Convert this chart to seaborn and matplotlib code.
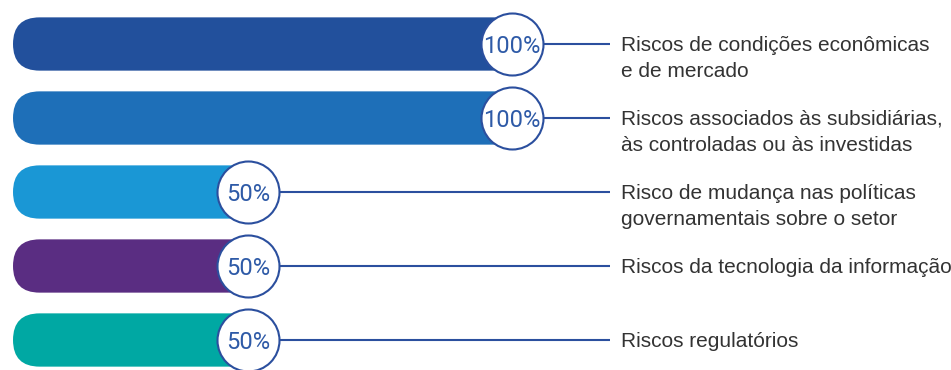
import matplotlib
matplotlib.use("Agg")
import matplotlib.pyplot as plt
import matplotlib.transforms as mtransforms
from matplotlib.patches import FancyBboxPatch
import pandas as pd
import seaborn as sns

# Risk categories and the share of responses for each
categories = [
    "Riscos de condições econômicas\ne de mercado",
    "Riscos associados às subsidiárias,\nàs controladas ou às investidas",
    "Risco de mudança nas políticas\ngovernamentais sobre o setor",
    "Riscos da tecnologia da informação",
    "Riscos regulatórios",
]
values = [100, 100, 50, 50, 50]
bar_colors = ["#22509C", "#1E6FB8", "#1A97D5", "#5A2D82", "#00A8A3"]

ACCENT = "#2B4F9E"
TEXT = "#333333"

W, H, DPI = 951, 370, 100
sns.set_theme(style="white")
plt.rcParams["font.family"] = ["Liberation Sans", "DejaVu Sans"]

fig = plt.figure(figsize=(W / DPI, H / DPI), dpi=DPI)
ax = fig.add_axes([0, 0, 1, 1])

df = pd.DataFrame({"risco": categories, "pct": values})
bar_h = 0.72
sns.barplot(data=df, x="pct", y="risco", hue="risco", palette=bar_colors,
            orient="h", width=bar_h, legend=False, saturation=1,
            edgecolor="none", linewidth=0, ax=ax)

# axis limits: 0% sits 13 px from the left edge, 5.28 px per percentage point,
# one category every 74 px starting 44 px from the top
px_per_unit = 5.28
x0_px = 13
ax.set_xlim(-x0_px / px_per_unit, (W - x0_px) / px_per_unit)
row_px, first_px = 74, 44
ax.set_ylim((H - first_px) / row_px, -first_px / row_px)
ax.set_axis_off()

# round the bar ends (pill shape) by clipping every bar to a rounded box
aspect = (1 / row_px) / (1 / px_per_unit)
radius = (bar_h / 2) / aspect
for bar in ax.patches:
    x, y = bar.get_x(), bar.get_y()
    w, h = bar.get_width(), bar.get_height()
    pill = FancyBboxPatch((x, y), w, h,
                          boxstyle=f"round,pad=0,rounding_size={radius}",
                          mutation_aspect=aspect, transform=ax.transData)
    bar.set_clip_path(pill)

# badge circles sitting at the end of each bar
circle_r_px = 31
inset = (circle_r_px - 2) / px_per_unit
diam_pt = 2 * circle_r_px * 72 / DPI
ypos = list(range(len(values)))
cx = [v - inset for v in values]
ax.scatter(cx, ypos, s=diam_pt ** 2, facecolor="white", edgecolor=ACCENT,
           linewidth=1.5, zorder=4)
for xc, yc, v in zip(cx, ypos, values):
    ax.text(xc, yc, f"{v}%", ha="center", va="center_baseline",
            fontsize=17, color="#2E5AA7", family=["Roboto", "DejaVu Sans"],
            fontweight="normal", zorder=5)

# leader lines from each badge to its label; the first line of each label
# is centred on its bar
line_end = 610 / W
label_x = 621 / W
line_pt = 26 * 72 / DPI
blend = mtransforms.blended_transform_factory(ax.transAxes, ax.transData)
for xc, yc, lab in zip(cx, ypos, categories):
    start = ax.transAxes.inverted().transform(
        ax.transData.transform((xc, yc)))[0] + circle_r_px / W
    ax.plot([start, line_end], [yc, yc], transform=blend, color=ACCENT,
            lw=1.5, zorder=3, solid_capstyle="butt")
    extra = lab.count("\n")
    ax.annotate(lab, xy=(label_x, yc), xycoords=blend,
                xytext=(0, -5.3 - extra * line_pt), textcoords="offset points",
                ha="left", va="baseline", fontsize=15, color=TEXT,
                linespacing=1.5)

fig.savefig("out.png", dpi=DPI)
